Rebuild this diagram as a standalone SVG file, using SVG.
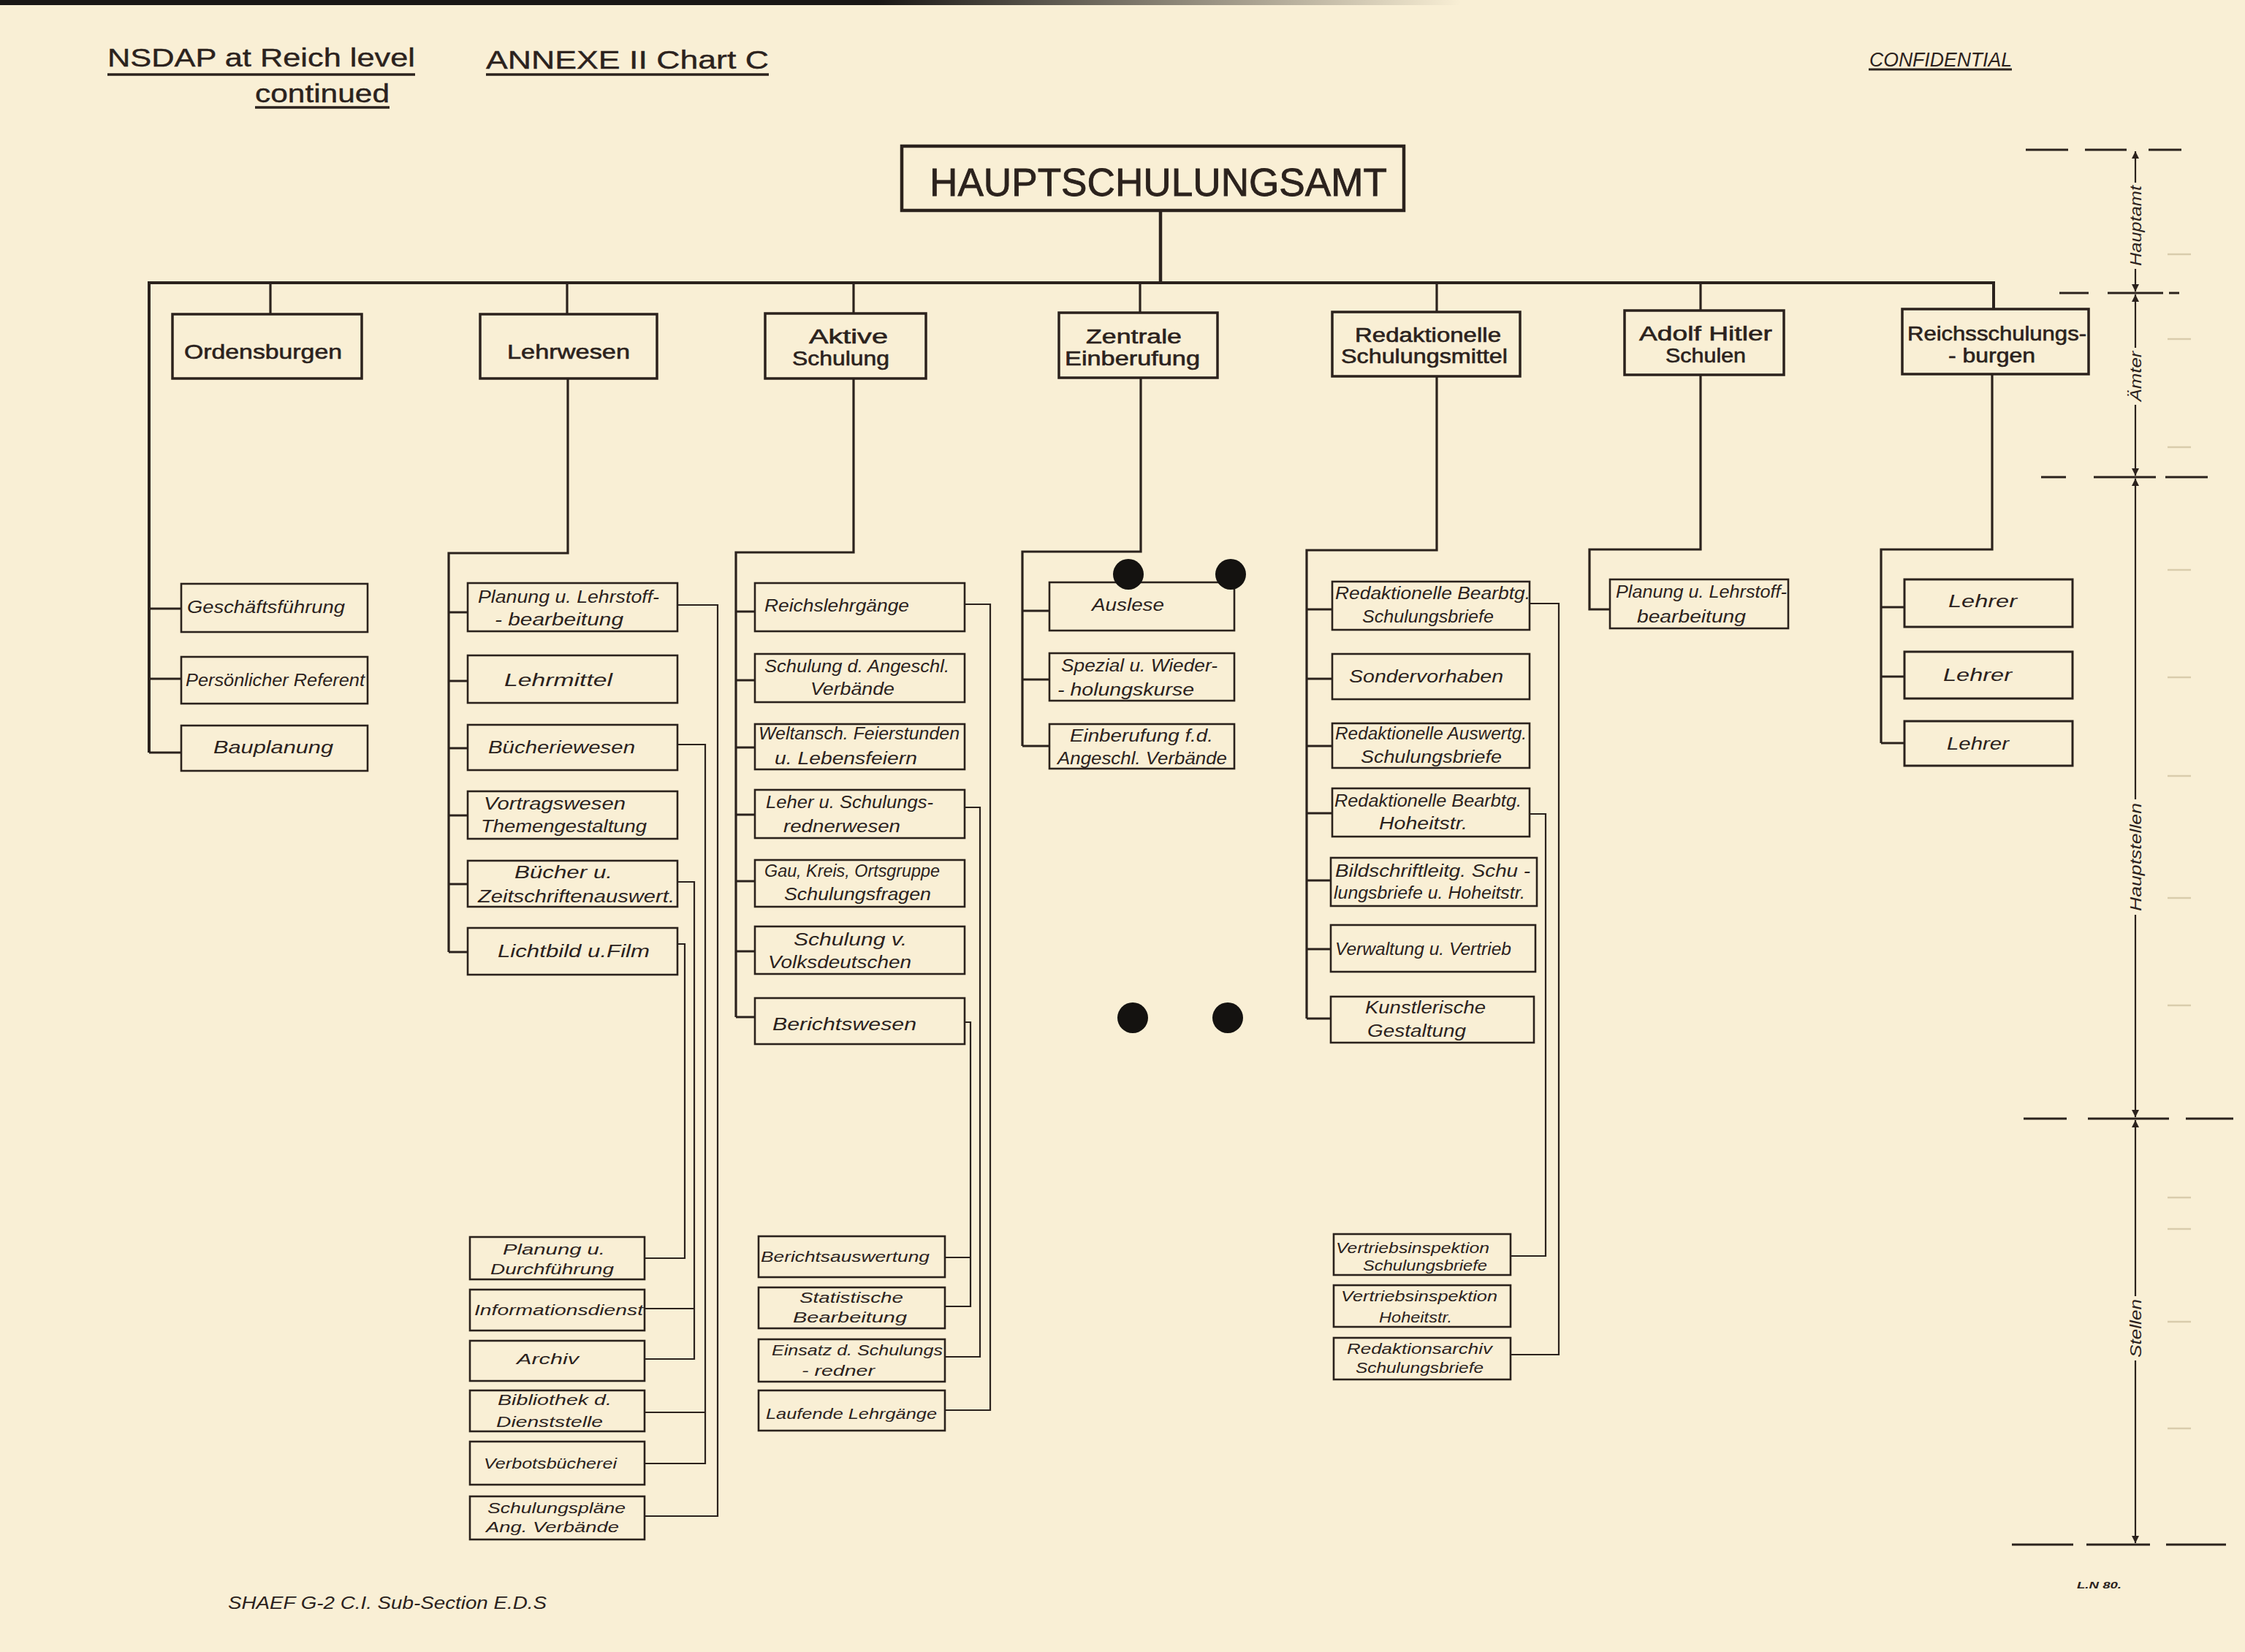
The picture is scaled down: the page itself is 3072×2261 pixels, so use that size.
<svg xmlns="http://www.w3.org/2000/svg" width="3072" height="2261" viewBox="0 0 3072 2261">
<style>
.bg{fill:#f9efd5}
.hb{fill:none;stroke:#2b221d;stroke-width:3.5}
.mb{fill:none;stroke:#2b221d;stroke-width:4.5}
.bx{fill:none;stroke:#2b221d;stroke-width:2.6}
.ln{fill:none;stroke:#2b221d;stroke-width:3.2}
.st{fill:none;stroke:#2b221d;stroke-width:3}
.tn{fill:none;stroke:#2b221d;stroke-width:2.2}
.ul{fill:none;stroke:#2b221d;stroke-width:3.5}
.dash{fill:none;stroke:#2b221d;stroke-width:3}
.faint{fill:none;stroke:#d9ccac;stroke-width:2.5}
.hole{fill:#141210}
.h{font-family:"Liberation Sans",Arial,sans-serif;fill:#2b221d;stroke:#2b221d;stroke-width:0.6;font-size:28px}
.s{font-family:"Liberation Sans",Arial,sans-serif;font-style:italic;fill:#2b221d;font-size:23px}
.b{font-family:"Liberation Sans",Arial,sans-serif;font-style:italic;fill:#2b221d;font-size:21px}
.r{font-family:"Liberation Sans",Arial,sans-serif;font-style:italic;fill:#2b221d;font-size:22px}
</style>
<defs>
<marker id="ah" viewBox="0 0 10 20" refX="10" refY="10" markerWidth="10" markerHeight="20" markerUnits="userSpaceOnUse" orient="auto">
<path d="M0,5 L10,10 L0,15 Z" fill="#2b221d"/>
</marker>
<linearGradient id="edge" x1="0" y1="0" x2="1" y2="0">
<stop offset="0" stop-color="#1a1715"/>
<stop offset="0.6" stop-color="#1a1715"/>
<stop offset="1" stop-color="#1a1715" stop-opacity="0"/>
</linearGradient>
</defs>
<rect class="bg" x="0" y="0" width="3072" height="2261"/>
<rect x="0" y="0" width="2000" height="7" fill="url(#edge)"/>

<g id="header">
<text class="h" x="147" y="91" style="font-size:35px;stroke-width:0.4" textLength="421" lengthAdjust="spacingAndGlyphs">NSDAP at Reich level</text>
<line class="ul" x1="147" y1="102" x2="568" y2="102"/>
<text class="h" x="349" y="140" style="font-size:35px;stroke-width:0.4" textLength="184" lengthAdjust="spacingAndGlyphs">continued</text>
<line class="ul" x1="349" y1="147" x2="533" y2="147"/>
<text class="h" x="665" y="94" style="font-size:35px;stroke-width:0.4" textLength="387" lengthAdjust="spacingAndGlyphs">ANNEXE II  Chart C</text>
<line class="ul" x1="665" y1="102" x2="1052" y2="102"/>
<text class="s" x="2558" y="91" style="font-size:27px" textLength="195" lengthAdjust="spacingAndGlyphs">CONFIDENTIAL</text>
<line class="tn" x1="2557" y1="95" x2="2753" y2="95" style="stroke-width:3"/>
</g>

<g id="connectors">
<line class="mb" x1="1588" y1="290" x2="1588" y2="387"/>
<polyline class="ln" points="204,1030 204,387 2728,387 2728,423" style="stroke-width:4"/>
<line class="ln" x1="370" y1="387" x2="370" y2="430"/>
<line class="ln" x1="776" y1="387" x2="776" y2="430"/>
<line class="ln" x1="1168" y1="387" x2="1168" y2="429"/>
<line class="ln" x1="1560" y1="387" x2="1560" y2="428"/>
<line class="ln" x1="1966" y1="387" x2="1966" y2="427"/>
<line class="ln" x1="2327" y1="387" x2="2327" y2="425"/>
<polyline class="ln" points="777,518 777,757 614,757 614,1303"/>
<polyline class="ln" points="1168,518 1168,756 1007,756 1007,1392"/>
<polyline class="ln" points="1561,517 1561,755 1399,755 1399,1021"/>
<polyline class="ln" points="1966,515 1966,753 1788,753 1788,1394"/>
<polyline class="ln" points="2327,513 2327,752 2175,752 2175,834 2203,834"/>
<polyline class="ln" points="2726,512 2726,752 2574,752 2574,1017"/>
<line class="st" x1="204" y1="833" x2="248" y2="833"/>
<line class="st" x1="204" y1="929" x2="248" y2="929"/>
<line class="st" x1="204" y1="1030" x2="248" y2="1030"/>
<line class="st" x1="614" y1="838" x2="640" y2="838"/>
<line class="st" x1="614" y1="932" x2="640" y2="932"/>
<line class="st" x1="614" y1="1024" x2="640" y2="1024"/>
<line class="st" x1="614" y1="1116" x2="640" y2="1116"/>
<line class="st" x1="614" y1="1210" x2="640" y2="1210"/>
<line class="st" x1="614" y1="1303" x2="640" y2="1303"/>
<polyline class="tn" points="927,828 982,828 982,2075 882,2075"/>
<polyline class="tn" points="927,1019 965,1019 965,2003 882,2003"/>
<line class="tn" x1="965" y1="1933" x2="882" y2="1933"/>
<polyline class="tn" points="927,1207 950,1207 950,1860 882,1860"/>
<line class="tn" x1="950" y1="1791" x2="882" y2="1791"/>
<polyline class="tn" points="927,1292 937,1292 937,1722 882,1722"/>
<line class="st" x1="1007" y1="837" x2="1033" y2="837"/>
<line class="st" x1="1007" y1="931" x2="1033" y2="931"/>
<line class="st" x1="1007" y1="1023" x2="1033" y2="1023"/>
<line class="st" x1="1007" y1="1115" x2="1033" y2="1115"/>
<line class="st" x1="1007" y1="1206" x2="1033" y2="1206"/>
<line class="st" x1="1007" y1="1302" x2="1033" y2="1302"/>
<line class="st" x1="1007" y1="1392" x2="1033" y2="1392"/>
<polyline class="tn" points="1320,827 1355,827 1355,1930 1293,1930"/>
<polyline class="tn" points="1320,1105 1341,1105 1341,1857 1293,1857"/>
<polyline class="tn" points="1320,1399 1328,1399 1328,1788 1293,1788"/>
<line class="tn" x1="1328" y1="1721" x2="1293" y2="1721"/>
<line class="st" x1="1399" y1="836" x2="1436" y2="836"/>
<line class="st" x1="1399" y1="930" x2="1436" y2="930"/>
<line class="st" x1="1399" y1="1021" x2="1436" y2="1021"/>
<line class="st" x1="1788" y1="834" x2="1823" y2="834"/>
<line class="st" x1="1788" y1="929" x2="1823" y2="929"/>
<line class="st" x1="1788" y1="1021" x2="1823" y2="1021"/>
<line class="st" x1="1788" y1="1113" x2="1823" y2="1113"/>
<line class="st" x1="1788" y1="1205" x2="1821" y2="1205"/>
<line class="st" x1="1788" y1="1299" x2="1821" y2="1299"/>
<line class="st" x1="1788" y1="1394" x2="1821" y2="1394"/>
<polyline class="tn" points="2093,826 2133,826 2133,1854 2067,1854"/>
<polyline class="tn" points="2093,1114 2115,1114 2115,1719 2067,1719"/>
<line class="st" x1="2574" y1="831" x2="2606" y2="831"/>
<line class="st" x1="2574" y1="926" x2="2606" y2="926"/>
<line class="st" x1="2574" y1="1017" x2="2606" y2="1017"/>
</g>

<g id="n-hauptschulungsamt">
<rect class="mb" x="1234" y="200" width="687" height="88"/>
<text class="h" x="1272" y="268" style="font-size:53px;stroke-width:0.8" textLength="626" lengthAdjust="spacingAndGlyphs">HAUPTSCHULUNGSAMT</text>
</g>

<g id="n-ordensburgen">
<rect class="hb" x="236" y="430" width="259" height="88"/>
<text class="h" x="252" y="491" textLength="216" lengthAdjust="spacingAndGlyphs">Ordensburgen</text>
</g>
<g id="n-lehrwesen">
<rect class="hb" x="657" y="430" width="242" height="88"/>
<text class="h" x="694" y="491" textLength="168" lengthAdjust="spacingAndGlyphs">Lehrwesen</text>
</g>
<g id="n-aktive">
<rect class="hb" x="1047" y="429" width="220" height="89"/>
<text class="h" x="1107" y="470" style="font-size:27px" textLength="108" lengthAdjust="spacingAndGlyphs">Aktive</text>
<text class="h" x="1084" y="500" style="font-size:27px" textLength="133" lengthAdjust="spacingAndGlyphs">Schulung</text>
</g>
<g id="n-zentrale">
<rect class="hb" x="1449" y="428" width="217" height="89"/>
<text class="h" x="1486" y="470" style="font-size:27px" textLength="131" lengthAdjust="spacingAndGlyphs">Zentrale</text>
<text class="h" x="1457" y="500" style="font-size:27px" textLength="185" lengthAdjust="spacingAndGlyphs">Einberufung</text>
</g>
<g id="n-redaktionelle">
<rect class="hb" x="1823" y="427" width="257" height="88"/>
<text class="h" x="1854" y="468" style="font-size:27px" textLength="200" lengthAdjust="spacingAndGlyphs">Redaktionelle</text>
<text class="h" x="1835" y="497" style="font-size:27px" textLength="228" lengthAdjust="spacingAndGlyphs">Schulungsmittel</text>
</g>
<g id="n-adolf">
<rect class="hb" x="2223" y="425" width="218" height="88"/>
<text class="h" x="2243" y="466" style="font-size:27px" textLength="182" lengthAdjust="spacingAndGlyphs">Adolf Hitler</text>
<text class="h" x="2279" y="496" style="font-size:27px" textLength="110" lengthAdjust="spacingAndGlyphs">Schulen</text>
</g>
<g id="n-reichsschulungsburgen">
<rect class="hb" x="2603" y="423" width="255" height="89"/>
<text class="h" x="2610" y="466" style="font-size:27px" textLength="245" lengthAdjust="spacingAndGlyphs">Reichsschulungs-</text>
<text class="h" x="2666" y="496" style="font-size:27px" textLength="119" lengthAdjust="spacingAndGlyphs">- burgen</text>
</g>

<g id="n-geschaeftsfuehrung"><rect class="bx" x="248" y="799" width="255" height="66"/><text class="s" x="256" y="839" style="font-size:24px" textLength="216" lengthAdjust="spacingAndGlyphs">Geschäftsführung</text></g>
<g id="n-persoenlicher-referent"><rect class="bx" x="248" y="899" width="255" height="64"/><text class="s" x="254" y="939" style="font-size:24px" textLength="245" lengthAdjust="spacingAndGlyphs">Persönlicher Referent</text></g>
<g id="n-bauplanung"><rect class="bx" x="248" y="993" width="255" height="62"/><text class="s" x="292" y="1031" style="font-size:24px" textLength="164" lengthAdjust="spacingAndGlyphs">Bauplanung</text></g>

<g id="n-planung-lehrstoff"><rect class="bx" x="640" y="798" width="287" height="66"/><text class="s" x="654" y="825" textLength="248" lengthAdjust="spacingAndGlyphs">Planung u. Lehrstoff-</text><text class="s" x="677" y="856" textLength="176" lengthAdjust="spacingAndGlyphs">- bearbeitung</text></g>
<g id="n-lehrmittel"><rect class="bx" x="640" y="897" width="287" height="65"/><text class="s" x="690" y="939" textLength="148" lengthAdjust="spacingAndGlyphs">Lehrmittel</text></g>
<g id="n-buecheriewesen"><rect class="bx" x="640" y="992" width="287" height="62"/><text class="s" x="668" y="1031" style="font-size:24px" textLength="201" lengthAdjust="spacingAndGlyphs">Bücheriewesen</text></g>
<g id="n-vortragswesen"><rect class="bx" x="640" y="1083" width="287" height="65"/><text class="s" x="662" y="1108" textLength="194" lengthAdjust="spacingAndGlyphs">Vortragswesen</text><text class="s" x="658" y="1139" textLength="227" lengthAdjust="spacingAndGlyphs">Themengestaltung</text></g>
<g id="n-buecher-zeitschriften"><rect class="bx" x="640" y="1178" width="287" height="63"/><text class="s" x="704" y="1202" textLength="134" lengthAdjust="spacingAndGlyphs">Bücher u.</text><text class="s" x="654" y="1235" textLength="269" lengthAdjust="spacingAndGlyphs">Zeitschriftenauswert.</text></g>
<g id="n-lichtbild"><rect class="bx" x="640" y="1270" width="287" height="64"/><text class="s" x="681" y="1310" textLength="208" lengthAdjust="spacingAndGlyphs">Lichtbild u.Film</text></g>

<g id="n-planung-durchfuehrung"><rect class="bx" x="643" y="1693" width="239" height="58"/><text class="b" x="688" y="1717" textLength="140" lengthAdjust="spacingAndGlyphs">Planung u.</text><text class="b" x="671" y="1744" textLength="169" lengthAdjust="spacingAndGlyphs">Durchführung</text></g>
<g id="n-informationsdienst"><rect class="bx" x="643" y="1765" width="239" height="56"/><text class="b" x="649" y="1800" textLength="231" lengthAdjust="spacingAndGlyphs">Informationsdienst</text></g>
<g id="n-archiv"><rect class="bx" x="643" y="1835" width="239" height="55"/><text class="b" x="707" y="1867" textLength="85" lengthAdjust="spacingAndGlyphs">Archiv</text></g>
<g id="n-bibliothek"><rect class="bx" x="643" y="1903" width="239" height="56"/><text class="b" x="681" y="1923" textLength="156" lengthAdjust="spacingAndGlyphs">Bibliothek d.</text><text class="b" x="679" y="1953" textLength="146" lengthAdjust="spacingAndGlyphs">Dienststelle</text></g>
<g id="n-verbotsbuecherei"><rect class="bx" x="643" y="1973" width="239" height="59"/><text class="b" x="662" y="2010" textLength="182" lengthAdjust="spacingAndGlyphs">Verbotsbücherei</text></g>
<g id="n-schulungsplaene"><rect class="bx" x="643" y="2048" width="239" height="59"/><text class="b" x="667" y="2071" textLength="189" lengthAdjust="spacingAndGlyphs">Schulungspläne</text><text class="b" x="665" y="2097" textLength="182" lengthAdjust="spacingAndGlyphs">Ang. Verbände</text></g>

<g id="n-reichslehrgaenge"><rect class="bx" x="1033" y="798" width="287" height="66"/><text class="s" x="1046" y="837" textLength="198" lengthAdjust="spacingAndGlyphs">Reichslehrgänge</text></g>
<g id="n-schulung-angeschl"><rect class="bx" x="1033" y="895" width="287" height="66"/><text class="s" x="1046" y="920" textLength="253" lengthAdjust="spacingAndGlyphs">Schulung d. Angeschl.</text><text class="s" x="1109" y="951" textLength="115" lengthAdjust="spacingAndGlyphs">Verbände</text></g>
<g id="n-weltansch"><rect class="bx" x="1033" y="991" width="287" height="62"/><text class="s" x="1038" y="1012" textLength="275" lengthAdjust="spacingAndGlyphs">Weltansch. Feierstunden</text><text class="s" x="1060" y="1046" textLength="195" lengthAdjust="spacingAndGlyphs">u. Lebensfeiern</text></g>
<g id="n-leher"><rect class="bx" x="1033" y="1081" width="287" height="66"/><text class="s" x="1048" y="1106" textLength="229" lengthAdjust="spacingAndGlyphs">Leher u. Schulungs-</text><text class="s" x="1072" y="1139" textLength="160" lengthAdjust="spacingAndGlyphs">rednerwesen</text></g>
<g id="n-gau-kreis"><rect class="bx" x="1033" y="1177" width="287" height="64"/><text class="s" x="1046" y="1200" textLength="240" lengthAdjust="spacingAndGlyphs">Gau, Kreis, Ortsgruppe</text><text class="s" x="1073" y="1232" textLength="201" lengthAdjust="spacingAndGlyphs">Schulungsfragen</text></g>
<g id="n-volksdeutsche"><rect class="bx" x="1033" y="1268" width="287" height="65"/><text class="s" x="1086" y="1294" textLength="155" lengthAdjust="spacingAndGlyphs">Schulung v.</text><text class="s" x="1051" y="1325" textLength="196" lengthAdjust="spacingAndGlyphs">Volksdeutschen</text></g>
<g id="n-berichtswesen"><rect class="bx" x="1033" y="1366" width="287" height="63"/><text class="s" x="1057" y="1410" textLength="197" lengthAdjust="spacingAndGlyphs">Berichtswesen</text></g>

<g id="n-berichtsauswertung"><rect class="bx" x="1038" y="1692" width="255" height="56"/><text class="b" x="1041" y="1727" textLength="231" lengthAdjust="spacingAndGlyphs">Berichtsauswertung</text></g>
<g id="n-statistische"><rect class="bx" x="1038" y="1762" width="255" height="56"/><text class="b" x="1094" y="1783" textLength="142" lengthAdjust="spacingAndGlyphs">Statistische</text><text class="b" x="1085" y="1810" textLength="156" lengthAdjust="spacingAndGlyphs">Bearbeitung</text></g>
<g id="n-einsatz"><rect class="bx" x="1038" y="1833" width="255" height="58"/><text class="b" x="1056" y="1855" textLength="234" lengthAdjust="spacingAndGlyphs">Einsatz d. Schulungs</text><text class="b" x="1097" y="1883" textLength="100" lengthAdjust="spacingAndGlyphs">- redner</text></g>
<g id="n-laufende"><rect class="bx" x="1038" y="1903" width="255" height="55"/><text class="b" x="1048" y="1942" textLength="234" lengthAdjust="spacingAndGlyphs">Laufende Lehrgänge</text></g>

<g id="n-auslese"><rect class="bx" x="1436" y="797" width="253" height="66"/><text class="s" x="1494" y="836" textLength="99" lengthAdjust="spacingAndGlyphs">Auslese</text></g>
<g id="n-spezial"><rect class="bx" x="1436" y="894" width="253" height="65"/><text class="s" x="1452" y="919" textLength="214" lengthAdjust="spacingAndGlyphs">Spezial u. Wieder-</text><text class="s" x="1447" y="952" textLength="187" lengthAdjust="spacingAndGlyphs">- holungskurse</text></g>
<g id="n-einberufung-fd"><rect class="bx" x="1436" y="991" width="253" height="61"/><text class="s" x="1464" y="1015" textLength="196" lengthAdjust="spacingAndGlyphs">Einberufung f.d.</text><text class="s" x="1447" y="1046" textLength="232" lengthAdjust="spacingAndGlyphs">Angeschl. Verbände</text></g>

<g id="n-red-bearbtg-sb"><rect class="bx" x="1823" y="796" width="270" height="66"/><text class="s" x="1827" y="820" textLength="267" lengthAdjust="spacingAndGlyphs">Redaktionelle Bearbtg.</text><text class="s" x="1864" y="852" textLength="180" lengthAdjust="spacingAndGlyphs">Schulungsbriefe</text></g>
<g id="n-sondervorhaben"><rect class="bx" x="1823" y="895" width="270" height="62"/><text class="s" x="1846" y="934" textLength="211" lengthAdjust="spacingAndGlyphs">Sondervorhaben</text></g>
<g id="n-red-auswertg"><rect class="bx" x="1823" y="990" width="270" height="61"/><text class="s" x="1827" y="1012" textLength="262" lengthAdjust="spacingAndGlyphs">Redaktionelle Auswertg.</text><text class="s" x="1862" y="1044" textLength="193" lengthAdjust="spacingAndGlyphs">Schulungsbriefe</text></g>
<g id="n-red-bearbtg-hs"><rect class="bx" x="1823" y="1079" width="270" height="66"/><text class="s" x="1826" y="1104" textLength="256" lengthAdjust="spacingAndGlyphs">Redaktionelle Bearbtg.</text><text class="s" x="1887" y="1135" textLength="121" lengthAdjust="spacingAndGlyphs">Hoheitstr.</text></g>
<g id="n-bildschriftleitg"><rect class="bx" x="1821" y="1174" width="282" height="66"/><text class="s" x="1827" y="1200" textLength="267" lengthAdjust="spacingAndGlyphs">Bildschriftleitg. Schu -</text><text class="s" x="1825" y="1230" textLength="262" lengthAdjust="spacingAndGlyphs">lungsbriefe u. Hoheitstr.</text></g>
<g id="n-verwaltung"><rect class="bx" x="1821" y="1266" width="280" height="64"/><text class="s" x="1827" y="1307" textLength="241" lengthAdjust="spacingAndGlyphs">Verwaltung u. Vertrieb</text></g>
<g id="n-kunstlerische"><rect class="bx" x="1821" y="1364" width="278" height="63"/><text class="s" x="1868" y="1387" textLength="165" lengthAdjust="spacingAndGlyphs">Kunstlerische</text><text class="s" x="1871" y="1419" textLength="135" lengthAdjust="spacingAndGlyphs">Gestaltung</text></g>

<g id="n-vertriebsinsp-sb"><rect class="bx" x="1825" y="1689" width="242" height="56"/><text class="b" x="1828" y="1715" textLength="210" lengthAdjust="spacingAndGlyphs">Vertriebsinspektion</text><text class="b" x="1865" y="1739" textLength="170" lengthAdjust="spacingAndGlyphs">Schulungsbriefe</text></g>
<g id="n-vertriebsinsp-hs"><rect class="bx" x="1825" y="1759" width="242" height="57"/><text class="b" x="1835" y="1781" textLength="214" lengthAdjust="spacingAndGlyphs">Vertriebsinspektion</text><text class="b" x="1887" y="1810" textLength="100" lengthAdjust="spacingAndGlyphs">Hoheitstr.</text></g>
<g id="n-redaktionsarchiv"><rect class="bx" x="1825" y="1831" width="242" height="57"/><text class="b" x="1843" y="1853" textLength="199" lengthAdjust="spacingAndGlyphs">Redaktionsarchiv</text><text class="b" x="1855" y="1879" textLength="175" lengthAdjust="spacingAndGlyphs">Schulungsbriefe</text></g>

<g id="n-ahs-planung"><rect class="bx" x="2203" y="793" width="244" height="67"/><text class="s" x="2211" y="818" textLength="234" lengthAdjust="spacingAndGlyphs">Planung u. Lehrstoff-</text><text class="s" x="2240" y="852" textLength="149" lengthAdjust="spacingAndGlyphs">bearbeitung</text></g>

<g id="n-lehrer-1"><rect class="bx" x="2606" y="793" width="230" height="65" style="stroke-width:3"/><text class="s" x="2666" y="831" style="font-size:24px" textLength="94" lengthAdjust="spacingAndGlyphs">Lehrer</text></g>
<g id="n-lehrer-2"><rect class="bx" x="2606" y="892" width="230" height="64" style="stroke-width:3"/><text class="s" x="2659" y="932" style="font-size:24px" textLength="94" lengthAdjust="spacingAndGlyphs">Lehrer</text></g>
<g id="n-lehrer-3"><rect class="bx" x="2606" y="987" width="230" height="61" style="stroke-width:3"/><text class="s" x="2664" y="1026" style="font-size:24px" textLength="85" lengthAdjust="spacingAndGlyphs">Lehrer</text></g>

<g id="holes">
<circle class="hole" cx="1544" cy="786" r="21"/>
<circle class="hole" cx="1684" cy="786" r="21"/>
<circle class="hole" cx="1550" cy="1393" r="21"/>
<circle class="hole" cx="1680" cy="1393" r="21"/>
</g>

<g id="scale">
<line class="dash" x1="2772" y1="205" x2="2830" y2="205"/>
<line class="dash" x1="2853" y1="205" x2="2910" y2="205"/>
<line class="dash" x1="2940" y1="205" x2="2985" y2="205"/>
<line class="dash" x1="2818" y1="401" x2="2858" y2="401"/>
<line class="dash" x1="2884" y1="401" x2="2960" y2="401"/>
<line class="dash" x1="2968" y1="401" x2="2982" y2="401"/>
<line class="dash" x1="2793" y1="653" x2="2827" y2="653"/>
<line class="dash" x1="2865" y1="653" x2="2950" y2="653"/>
<line class="dash" x1="2963" y1="653" x2="3021" y2="653"/>
<line class="dash" x1="2769" y1="1531" x2="2828" y2="1531"/>
<line class="dash" x1="2857" y1="1531" x2="2968" y2="1531"/>
<line class="dash" x1="2991" y1="1531" x2="3056" y2="1531"/>
<line class="dash" x1="2753" y1="2114" x2="2837" y2="2114"/>
<line class="dash" x1="2855" y1="2114" x2="2942" y2="2114"/>
<line class="dash" x1="2964" y1="2114" x2="3046" y2="2114"/>
<line class="tn" x1="2922" y1="250" x2="2922" y2="207" marker-end="url(#ah)"/>
<line class="tn" x1="2922" y1="368" x2="2922" y2="399" marker-end="url(#ah)"/>
<line class="tn" x1="2922" y1="476" x2="2922" y2="403" marker-end="url(#ah)"/>
<line class="tn" x1="2922" y1="554" x2="2922" y2="651" marker-end="url(#ah)"/>
<line class="tn" x1="2922" y1="1094" x2="2922" y2="655" marker-end="url(#ah)"/>
<line class="tn" x1="2922" y1="1252" x2="2922" y2="1529" marker-end="url(#ah)"/>
<line class="tn" x1="2922" y1="1774" x2="2922" y2="1533" marker-end="url(#ah)"/>
<line class="tn" x1="2922" y1="1862" x2="2922" y2="2112" marker-end="url(#ah)"/>
<text class="r" transform="translate(2930,309) rotate(-90)" text-anchor="middle" textLength="110" lengthAdjust="spacingAndGlyphs">Hauptamt</text>
<text class="r" transform="translate(2930,515) rotate(-90)" text-anchor="middle" textLength="69" lengthAdjust="spacingAndGlyphs">Ämter</text>
<text class="r" transform="translate(2930,1173) rotate(-90)" text-anchor="middle" textLength="148" lengthAdjust="spacingAndGlyphs">Hauptstellen</text>
<text class="r" transform="translate(2930,1818) rotate(-90)" text-anchor="middle" textLength="80" lengthAdjust="spacingAndGlyphs">Stellen</text>
</g>

<g id="paper-marks">
<line class="faint" x1="2966" y1="348" x2="2998" y2="348"/>
<line class="faint" x1="2966" y1="464" x2="2998" y2="464"/>
<line class="faint" x1="2966" y1="612" x2="2998" y2="612"/>
<line class="faint" x1="2966" y1="780" x2="2998" y2="780"/>
<line class="faint" x1="2966" y1="927" x2="2998" y2="927"/>
<line class="faint" x1="2966" y1="1062" x2="2998" y2="1062"/>
<line class="faint" x1="2966" y1="1229" x2="2998" y2="1229"/>
<line class="faint" x1="2966" y1="1376" x2="2998" y2="1376"/>
<line class="faint" x1="2966" y1="1639" x2="2998" y2="1639"/>
<line class="faint" x1="2966" y1="1682" x2="2998" y2="1682"/>
<line class="faint" x1="2966" y1="1809" x2="2998" y2="1809"/>
<line class="faint" x1="2966" y1="1955" x2="2998" y2="1955"/>
</g>

<g id="footer">
<text class="s" x="312" y="2202" style="font-size:24px" textLength="436" lengthAdjust="spacingAndGlyphs">SHAEF G-2 C.I. Sub-Section E.D.S</text>
<text class="s" x="2842" y="2174" style="font-size:12px;font-weight:bold" textLength="61" lengthAdjust="spacingAndGlyphs">L.N 80.</text>
</g>
</svg>
